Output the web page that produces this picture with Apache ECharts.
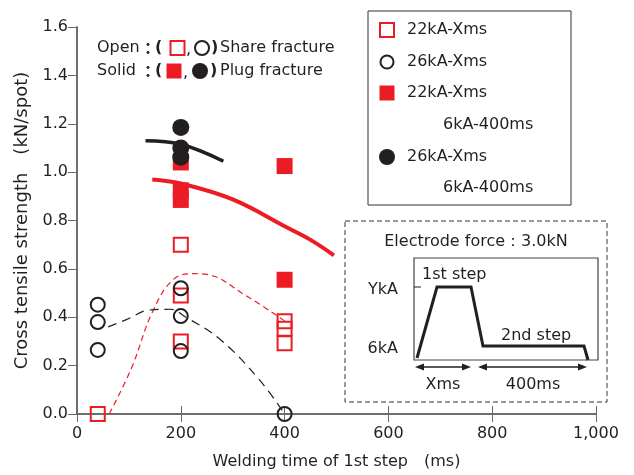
<!DOCTYPE html>
<html>
<head>
<meta charset="utf-8">
<title>Cross tensile strength</title>
<script src="https://cdn.jsdelivr.net/npm/echarts@6/dist/echarts.min.js"></script>
<style>
  html, body { margin: 0; padding: 0; background: #fff; }
  #chart { width: 634px; height: 475px; }
</style>
</head>
<body>
<div id="chart"></div>
<script>
// welding time (ms), strength (kN/spot)
var openSquares = [[40, 0.0], [200, 0.70], [200, 0.49], [200, 0.30], [400, 0.383], [400, 0.352], [400, 0.293]];
var openCircles = [[40, 0.452], [40, 0.38], [40, 0.265], [200, 0.52], [200, 0.405], [200, 0.26], [400, 0.0]];
var solidSquares = [[200, 1.04], [200, 0.925], [200, 0.885], [400, 1.025], [400, 0.555]];
var solidCircles = [[200, 1.185], [200, 1.10], [200, 1.062]];

// trend lines
var redSolid = [[145, 0.97], [200, 0.953], [300, 0.887], [400, 0.776], [450, 0.72], [495, 0.656]];
var blackSolid = [[132, 1.13], [200, 1.115], [282, 1.045]];
var redDashed = [[62, 0.0], [105, 0.19], [145, 0.42], [185, 0.555], [225, 0.58], [250, 0.577], [325, 0.49], [400, 0.385]];
var blackDashed = [[60, 0.36], [95, 0.39], [140, 0.43], [180, 0.433], [210, 0.40], [275, 0.31], [350, 0.145], [400, 0.0]];

var xTicks = [0, 200, 400, 600, 800, 1000];
var yTicks = [0, 0.2, 0.4, 0.6, 0.8, 1.0, 1.2, 1.4, 1.6];

var RED = '#ec1c24';
var INK = '#231f20';
var FONT = 'DejaVu Sans';

var chart = echarts.init(document.getElementById('chart'));

var axisLine = { lineStyle: { color: '#666', width: 1.5 } };

function txt(x, y, s, align, extra) {
    var st = { text: s, x: x, y: y, fill: INK, font: '16px "' + FONT + '"', align: align || 'left', verticalAlign: 'middle' };
    if (extra) for (var k in extra) st[k] = extra[k];
    return { type: 'text', z: 101, style: st };
}
function sq(cx, cy, s, filled) {
    return { type: 'rect', z: 101, shape: { x: cx - s / 2, y: cy - s / 2, width: s, height: s },
        style: filled ? { fill: RED } : { fill: 'none', stroke: RED, lineWidth: 2 } };
}
function circ(cx, cy, r, filled) {
    return { type: 'circle', z: 101, shape: { cx: cx, cy: cy, r: r },
        style: filled ? { fill: INK } : { fill: 'none', stroke: INK, lineWidth: 2 } };
}
function arrow(x1, x2, y) {
    return [
        { type: 'line', z: 101, shape: { x1: x1 + 4, y1: y, x2: x2 - 4, y2: y }, style: { stroke: INK, lineWidth: 1.5 } },
        { type: 'polygon', z: 101, shape: { points: [[x1, y], [x1 + 9, y - 3.5], [x1 + 9, y + 3.5]] }, style: { fill: INK } },
        { type: 'polygon', z: 101, shape: { points: [[x2, y], [x2 - 9, y - 3.5], [x2 - 9, y + 3.5]] }, style: { fill: INK } }
    ];
}

var graphics = [
    // fracture notes
    txt(97, 48, 'Open'), txt(148, 48, '：', 'center', { font: 'bold 16px "Noto Sans CJK JP"' }),
    txt(155, 48, '(', 'left', { font: 'bold 16px "' + FONT + '"' }),
    sq(177.5, 48, 14, false), txt(186, 50, ','), circ(202, 48, 7, false),
    txt(211, 48, ')', 'left', { font: 'bold 16px "' + FONT + '"' }),
    txt(220, 48, 'Share fracture'),
    txt(97, 71, 'Solid'), txt(148, 71, '：', 'center', { font: 'bold 16px "Noto Sans CJK JP"' }),
    txt(155, 71, '(', 'left', { font: 'bold 16px "' + FONT + '"' }),
    sq(174, 71, 15, true), txt(183, 73, ','), circ(200, 71, 8, true),
    txt(210, 71, ')', 'left', { font: 'bold 16px "' + FONT + '"' }),
    txt(220, 71, 'Plug fracture'),

    // legend box
    { type: 'rect', z: 100, shape: { x: 368, y: 11, width: 203, height: 194 }, style: { fill: '#fff', stroke: '#333', lineWidth: 1 } },
    sq(387, 30, 14, false), txt(407, 30, '22kA-Xms'),
    circ(387, 62, 6.5, false), txt(407, 62, '26kA-Xms'),
    sq(387, 93, 15, true), txt(407, 93, '22kA-Xms'), txt(443, 125, '6kA-400ms'),
    circ(387, 157, 8, true), txt(407, 157, '26kA-Xms'), txt(443, 188, '6kA-400ms'),

    // welding schedule inset
    { type: 'rect', z: 100, shape: { x: 345, y: 221, width: 262, height: 181 }, style: { fill: '#fff', stroke: '#333', lineWidth: 1, lineDash: [5, 3] } },
    txt(476, 242, 'Electrode force：3.0kN', 'center'),
    { type: 'rect', z: 101, shape: { x: 414, y: 258, width: 184, height: 102 }, style: { fill: 'none', stroke: '#444', lineWidth: 1.2 } },
    { type: 'polyline', z: 102, shape: { points: [[417, 358], [437, 287], [471, 287], [483, 346], [584, 346], [588, 360]] }, style: { stroke: INK, lineWidth: 3, fill: 'none' } },
    { type: 'line', z: 101, shape: { x1: 414, y1: 287, x2: 421, y2: 287 }, style: { stroke: INK, lineWidth: 1 } },
    txt(398, 290, 'YkA', 'right'), txt(398, 349, '6kA', 'right'),
    txt(422, 275, '1st step'), txt(501, 336, '2nd step'),
    txt(443, 385, 'Xms', 'center'), txt(533, 385, '400ms', 'center')
].concat(arrow(415, 471, 367)).concat(arrow(478, 587, 367));

var option = {
    animation: false,
    backgroundColor: '#fff',
    textStyle: { fontFamily: FONT },
    grid: { left: 77, right: 38, top: 27, bottom: 60 },
    xAxis: [{
        type: 'value', min: xTicks[0], max: xTicks[xTicks.length - 1], interval: 200,
        name: 'Welding time of 1st step\u3000(ms)', nameLocation: 'middle', nameGap: 40,
        nameTextStyle: { fontSize: 16, color: INK, fontFamily: FONT },
        axisLine: axisLine, splitLine: { show: false },
        axisTick: { inside: true, length: 8, lineStyle: { color: '#666' } },
        axisLabel: { fontSize: 16, color: INK, margin: 12, formatter: function (v) { return v.toLocaleString('en-US'); } }
    }, {
        type: 'value', position: 'top', min: 0, max: 1000, interval: 200,
        axisLine: axisLine, splitLine: { show: false }, axisLabel: { show: false },
        axisTick: { inside: true, length: 8, lineStyle: { color: '#666' } }
    }],
    yAxis: [{
        type: 'value', min: yTicks[0], max: yTicks[yTicks.length - 1], interval: 0.2,
        name: 'Cross tensile strength\u3000(kN/spot)', nameLocation: 'middle', nameGap: 44,
        nameTextStyle: { fontSize: 18, color: INK, fontFamily: FONT },
        axisLine: axisLine, splitLine: { show: false },
        axisTick: { length: 5, lineStyle: { color: '#666' } },
        axisLabel: { fontSize: 16, color: INK, margin: 9, formatter: function (v) { return v.toFixed(1); } }
    }, {
        type: 'value', position: 'right', min: 0, max: 1.6, interval: 0.2,
        axisLine: axisLine, splitLine: { show: false }, axisLabel: { show: false },
        axisTick: { inside: true, length: 9, lineStyle: { color: '#666' } }
    }],
    series: [
        { type: 'line', data: redDashed, smooth: 0.4, symbol: 'none', lineStyle: { color: RED, width: 1.2, type: [6, 4] }, z: 2 },
        { type: 'line', data: blackDashed, smooth: 0.4, symbol: 'none', lineStyle: { color: INK, width: 1.2, type: [9, 6] }, z: 2 },
        { type: 'scatter', data: solidSquares, symbol: 'rect', symbolSize: 16, itemStyle: { color: RED, opacity: 1 }, z: 3 },
        { type: 'scatter', data: openSquares, symbol: 'rect', symbolSize: 14, itemStyle: { color: 'rgba(255,255,255,0)', borderColor: RED, borderWidth: 2, opacity: 1 }, z: 3 },
        { type: 'scatter', data: openCircles, symbol: 'circle', symbolSize: 14, itemStyle: { color: 'rgba(255,255,255,0)', borderColor: INK, borderWidth: 2, opacity: 1 }, z: 4 },
        { type: 'scatter', data: solidCircles, symbol: 'circle', symbolSize: 17, itemStyle: { color: INK, opacity: 1 }, z: 4 },
        { type: 'line', data: redSolid, smooth: 0.4, symbol: 'none', lineStyle: { color: RED, width: 4 }, z: 5 },
        { type: 'line', data: blackSolid, smooth: 0.4, symbol: 'none', lineStyle: { color: INK, width: 3.5 }, z: 5 }
    ],
    graphic: graphics
};

chart.setOption(option);
</script>
</body>
</html>
